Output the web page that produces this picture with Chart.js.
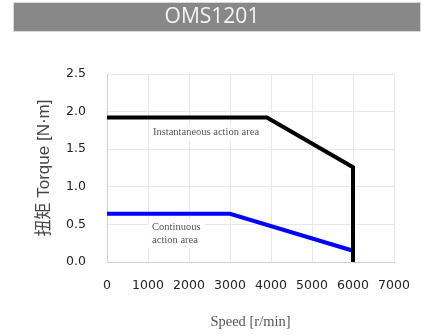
<!DOCTYPE html>
<html>
<head>
<meta charset="utf-8">
<script src="https://cdn.jsdelivr.net/npm/chart.js@4"></script>
<style>
html,body{margin:0;padding:0;background:#fff;}
#wrap{width:429px;height:335px;position:relative;}
</style>
</head>
<body>
<div id="wrap"><canvas id="c" width="429" height="335"></canvas></div>
<script>
const chartTitle = "OMS1201";
const xTitle = "Speed [r/min]";
const yTitle = "扭矩 Torque [N·m]";
const xTicks = [0, 1000, 2000, 3000, 4000, 5000, 6000, 7000];
const yTicks = [0.0, 0.5, 1.0, 1.5, 2.0, 2.5];

const instSpeed = [0, 3900, 6000, 6000];
const instTorque = [1.92, 1.92, 1.26, 0];
const contSpeed = [0, 3000, 6000];
const contTorque = [0.64, 0.64, 0.15];

const areaLabels = [
  {lines: ["Instantaneous action area"], x: 1120, y: 1.72},
  {lines: ["Continuous", "action area"], x: 1100, y: 0.46}
];

const toPts = (xs, ys) => xs.map((x, i) => ({x: x, y: ys[i]}));

const titleBar = {
  id: 'titleBar',
  beforeDraw(chart) {
    const ctx = chart.ctx;
    ctx.save();
    ctx.fillStyle = '#d8d8d8';
    ctx.fillRect(13, 2, 408, 30);
    ctx.fillStyle = '#888888';
    ctx.fillRect(14, 3, 406, 28);
    ctx.fillStyle = '#f4f4f4';
    ctx.font = '21px "Open Sans", "Noto Sans", sans-serif';
    ctx.textAlign = 'center';
    ctx.textBaseline = 'middle';
    ctx.fillText(chartTitle, 212, 17.5);
    ctx.restore();
  }
};

const areaText = {
  id: 'areaText',
  beforeDatasetsDraw(chart) {
    const ctx = chart.ctx;
    const xs = chart.scales.x, ys = chart.scales.y;
    ctx.save();
    ctx.font = '10.5px "Liberation Serif", "DejaVu Serif", serif';
    ctx.textAlign = 'left';
    ctx.textBaseline = 'middle';
    areaLabels.forEach(l => {
      const px = xs.getPixelForValue(l.x);
      const py = ys.getPixelForValue(l.y);
      const lh = 13;
      let w = 0;
      l.lines.forEach(t => { w = Math.max(w, ctx.measureText(t).width); });
      ctx.fillStyle = '#ffffff';
      ctx.fillRect(px - 4, py - 8, w + 8, lh * l.lines.length + 3);
      ctx.fillStyle = '#555555';
      l.lines.forEach((t, i) => ctx.fillText(t, px, py + i * lh));
    });
    ctx.restore();
  }
};

new Chart(document.getElementById('c'), {
  type: 'line',
  data: {
    datasets: [
      {data: toPts(instSpeed, instTorque), borderColor: '#000000', borderWidth: 4, pointRadius: 0, tension: 0, fill: false},
      {data: toPts(contSpeed, contTorque), borderColor: '#0000ff', borderWidth: 4, pointRadius: 0, tension: 0, fill: false}
    ]
  },
  options: {
    responsive: false,
    animation: false,
    layout: {padding: {top: 74, right: 35, left: 0, bottom: 0}},
    plugins: {legend: {display: false}, tooltip: {enabled: false}, title: {display: false}},
    scales: {
      x: {
        type: 'linear', min: 0, max: 7000,
        afterBuildTicks: s => { s.ticks = xTicks.map(v => ({value: v})); },
        afterFit: s => { s.height = 73; },
        grid: {color: '#e8e8e8', drawTicks: false},
        border: {color: '#d0d0d0'},
        ticks: {padding: 16, color: '#222', font: {family: '"DejaVu Sans", sans-serif', size: 12.5}, maxRotation: 0, autoSkip: false, callback: v => String(v)},
        title: {display: true, text: xTitle, color: '#555', font: {family: '"Liberation Serif", serif', size: 14.5}, padding: {top: 0, bottom: 4}}
      },
      y: {
        type: 'linear', min: 0, max: 2.5,
        afterBuildTicks: s => { s.ticks = yTicks.map(v => ({value: v})); },
        afterFit: s => { s.width = 107; },
        grid: {color: '#e8e8e8', drawTicks: false},
        border: {color: '#d0d0d0'},
        ticks: {padding: 21, color: '#222', font: {family: '"DejaVu Sans", sans-serif', size: 12.5}, callback: v => Number(v).toFixed(1)},
        title: {display: true, text: yTitle, color: '#444', font: {family: '"Liberation Sans", "Noto Sans CJK SC", sans-serif', size: 17}, padding: {top: 34, bottom: 0}}
      }
    }
  },
  plugins: [titleBar, areaText]
});
</script>
</body>
</html>
